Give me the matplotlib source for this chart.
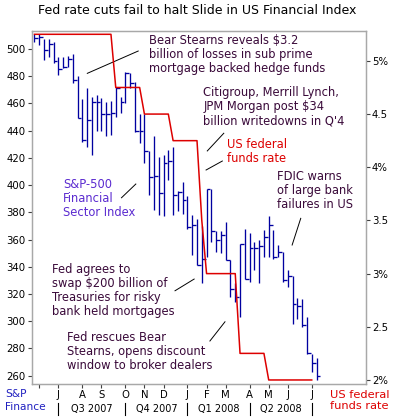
import numpy as np
import pandas as pd
import matplotlib
matplotlib.use('Agg')
from matplotlib import pyplot as plt
from matplotlib import transforms

plt.rcParams['font.family'] = ['DejaVu Sans']

# weekly bars (week starting Sunday), S&P-500 financial sector index
weeks = pd.date_range('2007-05-27', periods=60, freq='W-SUN')

high = [511, 511, 507, 507, 505, 494, 494, 495, 496, 480,
        463, 471, 465, 466, 464, 461, 462, 472, 465, 483,
        482, 476, 452, 452, 425, 436, 421, 422, 426, 428,
        396, 402, 392, 378, 375, 370, 397, 397, 366, 366,
        373, 345, 328, 357, 368, 365, 358, 360, 367, 377,
        367, 356, 351, 338, 333, 317, 316, 303, 276, 273]
low = [505, 503, 492, 494, 490, 481, 486, 487, 475, 449,
       432, 428, 422, 440, 440, 436, 437, 450, 453, 460,
       471, 439, 431, 416, 393, 382, 378, 377, 404, 378,
       381, 379, 368, 349, 341, 328, 347, 358, 351, 350,
       345, 318, 314, 303, 331, 329, 338, 328, 347, 347,
       346, 347, 329, 325, 298, 302, 296, 276, 263, 257]
close = [508, 509, 499, 504, 491, 485, 487, 493, 477, 449,
         433, 448, 461, 461, 452, 452, 453, 471, 461, 482,
         475, 440, 440, 425, 406, 407, 394, 416, 418, 393,
         395, 389, 369, 371, 341, 346, 397, 366, 360, 363,
         345, 324, 318, 357, 331, 354, 354, 355, 362, 371,
         347, 351, 330, 333, 313, 311, 297, 277, 269, 260]

# US federal funds target rate, weeks spent at each level
fed_levels = [5.25, 4.75, 4.5, 4.25, 3.5, 3.0, 2.25, 2.0]
fed_nweeks = [17, 6, 6, 6, 1, 7, 6, 10]

left_ticks = [260, 280, 300, 320, 340, 360, 380, 400, 420, 440, 460, 480, 500]
right_ticks = [2.0, 2.5, 3.0, 3.5, 4.0, 4.5, 5.0]
right_labels = ['2%', '2.5', '3%', '3.5', '4%', '4.5', '5%']
quarters = ['Q3 2007', 'Q4 2007', 'Q1 2008', 'Q2 2008']

blue = '#0000a0'
red = '#dd0000'
note = '#3a0a3a'
spine = '#a8a8a8'

x = np.arange(len(weeks))
fed_rate = np.repeat(fed_levels, fed_nweeks)

fig = plt.figure(figsize=(3.94, 4.19), dpi=100)
ax = fig.add_axes([0.0812, 0.0835, 0.8465, 0.8425])

ax.vlines(x, low, high, color=blue, lw=0.95)
ax.hlines(close, x, x + 0.8, color=blue, lw=0.95)
ax.set_xlim(-0.52, 69.25)
ax.set_ylim(253.9, 513.2)
ax.set_yticks(left_ticks)

# month ticks at first weekly bar of each month
mpos = np.where(weeks.month[1:] != weeks.month[:-1])[0] + 1
mlab = [weeks[i].strftime('%b')[0] for i in mpos]
mlab[0] = ''
ax.set_xticks(mpos)
ax.set_xticklabels(mlab)

ax2 = ax.twinx()
ax2.plot(x[:len(fed_rate)], fed_rate, color=red, lw=1.1)
ax2.set_ylim(1.962, 5.281)
ax2.set_yticks(right_ticks)
ax2.set_yticklabels(right_labels)

for a in (ax, ax2):
    for s in a.spines.values():
        s.set_color(spine)
        s.set_linewidth(0.9)
    a.tick_params(labelsize=7.3, length=3, width=0.8, color='#404040', pad=1.5)

# quarter labels and separators under the month letters
trans = transforms.blended_transform_factory(ax.transData, ax.transAxes)
qpos = [i for i in mpos if weeks[i].month in (1, 4, 7, 10)]
for i in qpos:
    ax.plot([i, i], [-0.055, -0.088], color='black', lw=0.8,
            transform=trans, clip_on=False)
for q, a, b in zip(quarters, qpos[:-1], qpos[1:]):
    ax.text((a + b) / 2, -0.071, q, transform=trans, ha='center',
            va='center', fontsize=7)

fig.text(0.0127, 0.0445, 'S&P\nFinance', color='#2020c0', fontsize=7.7,
         va='center', ha='left', linespacing=1.3)
fig.text(0.8376, 0.0437, 'US federal\nfunds rate', color=red, fontsize=8.2,
         va='center', ha='left', linespacing=1.15)

fig.text(0.4996, 0.974, 'Fed rate cuts fail to halt Slide in US Financial Index',
         ha='center', va='center', fontsize=9)

notes = [
    (24.0, 495.6, 'Bear Stearns reveals $3.2\nbillion of losses in sub prime\n'
     'mortgage backed hedge funds', note),
    (35.3, 457.6, 'Citigroup, Merrill Lynch,\nJPM Morgan post $34\n'
     "billion writedowns in Q'4", note),
    (40.3, 424.8, 'US federal\nfunds rate', red),
    (50.8, 396.2, 'FDIC warns\nof large bank\nfailures in US', note),
    (6.0, 390.5, 'S&P-500\nFinancial\nSector Index', '#5b2bd0'),
    (3.7, 322.6, 'Fed agrees to\nswap $200 billion of\nTreasuries for risky\n'
     'bank held mortgages', note),
    (6.9, 277.9, 'Fed rescues Bear\nStearns, opens discount\n'
     'window to broker dealers', note),
]
for tx, ty, txt, col in notes:
    ax.text(tx, ty, txt, color=col, fontsize=8.3, ha='left', va='center',
            linespacing=1.1, zorder=5)

leaders = [
    ((11.05, 482.1), (21.7, 498.5)),
    ((36.15, 425.1), (39.6, 438.1)),
    ((35.9, 411.1), (39.3, 417.7)),
    ((53.9, 356.0), (55.7, 375.6)),
    ((18.2, 390.7), (21.2, 400.8)),
    ((29.4, 322.4), (33.4, 331.0)),
    ((36.7, 285.5), (39.85, 299.6)),
]
for p0, p1 in leaders:
    ax.plot([p0[0], p1[0]], [p0[1], p1[1]], color='black', lw=0.7)

fig.savefig('out.png', dpi=100)
